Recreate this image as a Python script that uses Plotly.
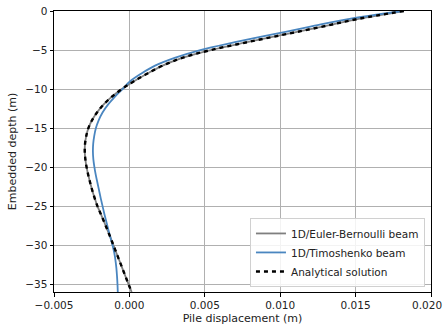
import plotly.graph_objects as go

depth = [0, -1, -2, -3, -4, -5, -6, -7, -8, -9, -10, -11, -12, -13, -14, -15, -16, -17, -18,
         -19, -20, -21, -22, -23, -24, -25, -26, -27, -28, -29, -30, -31, -32, -33, -34, -35, -36]

timoshenko = [0.0181, 0.0146, 0.0120, 0.0095, 0.0070, 0.0047, 0.0030, 0.0017, 0.0008, 0.00005,
              -0.00045, -0.00097, -0.00142, -0.00178, -0.00204, -0.00222, -0.00233, -0.0024, -0.00242,
              -0.00239, -0.00232, -0.00223, -0.00212, -0.00201, -0.0019, -0.00178, -0.00166, -0.00153,
              -0.0014, -0.00126, -0.00112, -0.0010, -0.00092, -0.00086, -0.00082, -0.00079, -0.00077]

euler = [0.0182, 0.0152, 0.0128, 0.0103, 0.0078, 0.0054, 0.0035, 0.0022, 0.0012, 0.0003,
         -0.0005, -0.00118, -0.00172, -0.00215, -0.00248, -0.00272, -0.00286, -0.00294, -0.00296,
         -0.00292, -0.00284, -0.00273, -0.0026, -0.00246, -0.0023, -0.00212, -0.0019, -0.00168,
         -0.00147, -0.00126, -0.00106, -0.00086, -0.00066, -0.00046, -0.00026, -0.00006, 0.00015]

analytical = [0.0182, 0.0152, 0.0128, 0.0103, 0.0078, 0.0054, 0.0035, 0.0022, 0.0012, 0.0003,
              -0.0005, -0.00118, -0.00172, -0.00215, -0.00248, -0.00272, -0.00286, -0.00294, -0.00296,
              -0.00292, -0.00284, -0.00273, -0.0026, -0.00246, -0.0023, -0.00212, -0.0019, -0.00168,
              -0.00147, -0.00126, -0.00106, -0.00086, -0.00066, -0.00046, -0.00026, -0.00006, 0.00015]

x_ticks = [-0.005, 0.0, 0.005, 0.010, 0.015, 0.020]
x_ticktext = ["\u22120.005", "0.000", "0.005", "0.010", "0.015", "0.020"]
y_ticks = [0, -5, -10, -15, -20, -25, -30, -35]
y_ticktext = ["0", "\u22125", "\u221210", "\u221215", "\u221220", "\u221225", "\u221230", "\u221235"]

fig = go.Figure()
fig.add_trace(go.Scatter(x=euler, y=depth, mode="lines", name="1D/Euler-Bernoulli beam",
                         line=dict(color="#7f7f7f", width=1.8, shape="spline")))
fig.add_trace(go.Scatter(x=timoshenko, y=depth, mode="lines", name="1D/Timoshenko beam",
                         line=dict(color="#4a86c0", width=1.8, shape="spline")))
fig.add_trace(go.Scatter(x=analytical, y=depth, mode="lines", name="Analytical solution",
                         line=dict(color="black", width=2.4, dash="4px,4px", shape="spline")))

font = dict(family="DejaVu Sans, sans-serif", size=11, color="#222")
tickfont = dict(family="DejaVu Sans, sans-serif", size=10.5, color="#222")

# last x tick label drawn as annotation, nudged left so it stays inside the page
shown_text = x_ticktext[:-1] + [""]
fig.add_annotation(x=x_ticks[-1], y=0, xref="x", yref="paper", text=x_ticktext[-1],
                   showarrow=False, xanchor="center", yanchor="middle", xshift=-4, yshift=-13,
                   font=tickfont)

fig.update_layout(
    width=445, height=325,
    margin=dict(l=54, r=14, t=11, b=33),
    paper_bgcolor="white", plot_bgcolor="white",
    font=font,
    showlegend=True,
    legend=dict(x=0.984, y=0.018, xanchor="right", yanchor="bottom",
                bgcolor="rgba(255,255,255,0.85)", bordercolor="#d0d0d0", borderwidth=1,
                font=dict(family="DejaVu Sans, sans-serif", size=10.5, color="#222"),
                itemwidth=30, tracegroupgap=0),
)
fig.update_xaxes(range=[-0.005, 0.020], tickvals=x_ticks, ticktext=shown_text,
                 automargin=False, tickfont=tickfont,
                 showgrid=True, gridcolor="#b0b0b0", gridwidth=0.8,
                 showline=True, mirror=True, linecolor="black", linewidth=1,
                 ticks="outside", ticklen=3.5, tickcolor="black", zeroline=False,
                 title=dict(text="Pile displacement (m)", standoff=6, font=font))
fig.update_yaxes(range=[-36, 0], tickvals=y_ticks, ticktext=y_ticktext,
                 automargin=False, ticklabeloverflow="allow", tickfont=tickfont,
                 showgrid=True, gridcolor="#b0b0b0", gridwidth=0.8,
                 showline=True, mirror=True, linecolor="black", linewidth=1,
                 ticks="outside", ticklen=3.5, tickcolor="black", zeroline=False,
                 title=dict(text="Embedded depth (m)", standoff=6, font=font))

fig.write_html("out.html")
